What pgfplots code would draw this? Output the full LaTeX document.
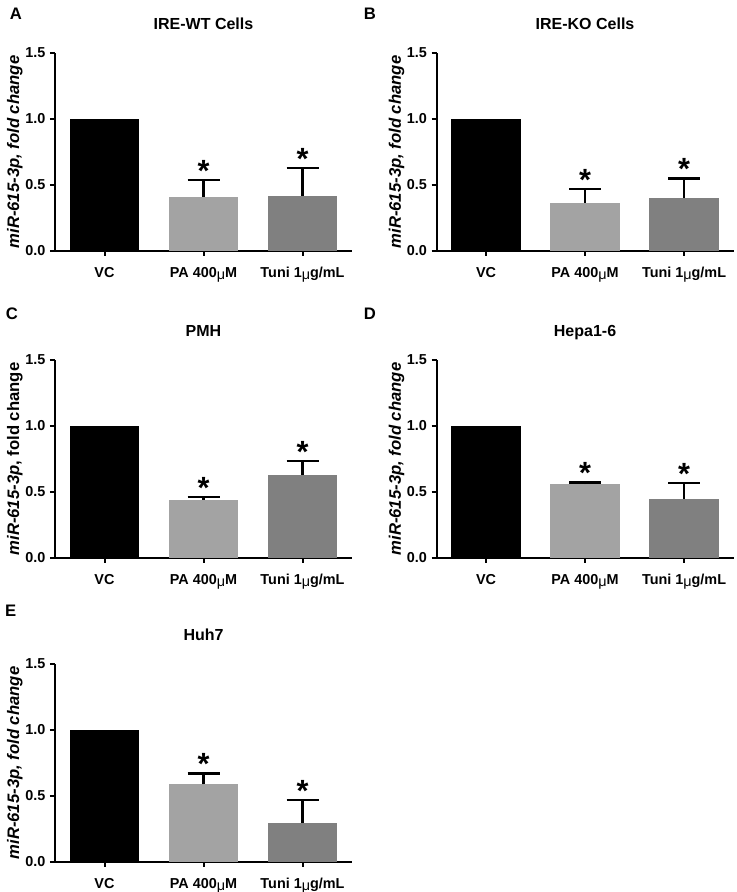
\documentclass[border=0pt]{standalone}
\usepackage{fontspec}
\setmainfont{Liberation Sans}
\usepackage{pgfplots}
\pgfplotsset{compat=1.18}

\definecolor{palegray}{RGB}{163,163,163}
\definecolor{midgray}{RGB}{128,128,128}

\newcommand{\mum}{{\mdseries\raisebox{-0.15ex}{μ}}}

\pgfplotsset{
  panel/.style={
    scale only axis, width=222.75pt, height=148.5pt,
    axis lines*=left,
    axis line style={line width=1.5pt},
    xmin=-0.5, xmax=2.5, ymin=0, ymax=1.5,
    xtick={0,1,2},
    xticklabels={VC, PA 400\mum M, Tuni 1\mum g/mL},
    ytick={0,0.5,1,1.5},
    tick align=outside, major tick length=3.75pt,
    tick style={black, line width=1.5pt},
    /pgf/number format/fixed,
    /pgf/number format/fixed zerofill,
    /pgf/number format/precision=1,
    /pgf/number format/assume math mode=true,
    tick label style={font=\fontsize{10.8}{12}\selectfont\bfseries},
    xticklabel style={anchor=base, yshift=-16.5pt},
    title style={font=\fontsize{12}{14}\selectfont\bfseries,
      at={(0.5,1)}, anchor=base, yshift=11.25pt},
    ylabel style={font=\fontsize{12.5}{14}\selectfont\bfseries,
      at={(axis description cs:-0.135,0.5)}, anchor=center},
    clip=false,
  },
  ylab/.style={ylabel={\textit{miR-615-3p, fold change}}},
  vc/.style={ybar, bar width=0.7, bar shift=0pt, fill=black, draw=none},
  errs/.style={
    error bars/.cd, y dir=plus, y explicit,
    error bar style={black, line width=1.7pt},
    error mark options={black, line width=1.7pt, mark size=12pt, rotate=90}},
  pa/.style={ybar, bar width=0.7, bar shift=0pt, fill=palegray, draw=none, errs},
  tuni/.style={ybar, bar width=0.7, bar shift=0pt, fill=midgray, draw=none, errs},
  stars/.style={ybar, bar width=0.7, bar shift=0pt, draw=none, fill=none,
    nodes near coords={*},
    every node near coord/.append style={anchor=base, yshift=-1pt,
      font=\fontsize{23}{23}\selectfont\bfseries}},
}

\begin{document}
\begin{tikzpicture}
\useasboundingbox (0,0) rectangle (552.75pt,669pt);

% A
\begin{axis}[panel, ylab, at={(41.25pt,480.75pt)}, title={IRE-WT Cells}]
\addplot[vc] coordinates {(0,1.00)};
\addplot[pa] coordinates {(1,0.41) +- (0,0.13)};
\addplot[tuni] coordinates {(2,0.42) +- (0,0.206)};
\addplot[stars] coordinates {(1,0.54) (2,0.626)};
\end{axis}

% B
\begin{axis}[panel, ylab, at={(327.4pt,480.75pt)}, title={IRE-KO Cells}]
\addplot[vc] coordinates {(0,1.00)};
\addplot[pa] coordinates {(1,0.365) +- (0,0.105)};
\addplot[tuni] coordinates {(2,0.40) +- (0,0.15)};
\addplot[stars] coordinates {(1,0.47) (2,0.55)};
\end{axis}

% C
\begin{axis}[panel, at={(41.25pt,250.5pt)}, title={PMH},
  ylabel={\textit{miR-615-3p}, fold change}]
\addplot[vc] coordinates {(0,1.00)};
\addplot[pa] coordinates {(1,0.44) +- (0,0.02)};
\addplot[tuni] coordinates {(2,0.63) +- (0,0.106)};
\addplot[stars] coordinates {(1,0.46) (2,0.736)};
\end{axis}

% D
\begin{axis}[panel, ylab, at={(327.4pt,250.5pt)}, title={Hepa1-6}]
\addplot[vc] coordinates {(0,1.00)};
\addplot[pa] coordinates {(1,0.56) +- (0,0.012)};
\addplot[tuni] coordinates {(2,0.447) +- (0,0.123)};
\addplot[stars] coordinates {(1,0.572) (2,0.57)};
\end{axis}

% E
\begin{axis}[panel, ylab, at={(41.25pt,22.5pt)}, title={Huh7}]
\addplot[vc] coordinates {(0,1.00)};
\addplot[pa] coordinates {(1,0.588) +- (0,0.082)};
\addplot[tuni] coordinates {(2,0.296) +- (0,0.176)};
\addplot[stars] coordinates {(1,0.67) (2,0.472)};
\end{axis}

\begin{scope}[every node/.style={font=\fontsize{12.5}{14}\selectfont\bfseries}]
\node at (12pt,658.5pt) {A};
\node at (277.5pt,658.5pt) {B};
\node at (9pt,433.5pt) {C};
\node at (277.5pt,433.5pt) {D};
\node at (8pt,210.75pt) {E};
\end{scope}
\end{tikzpicture}
\end{document}
